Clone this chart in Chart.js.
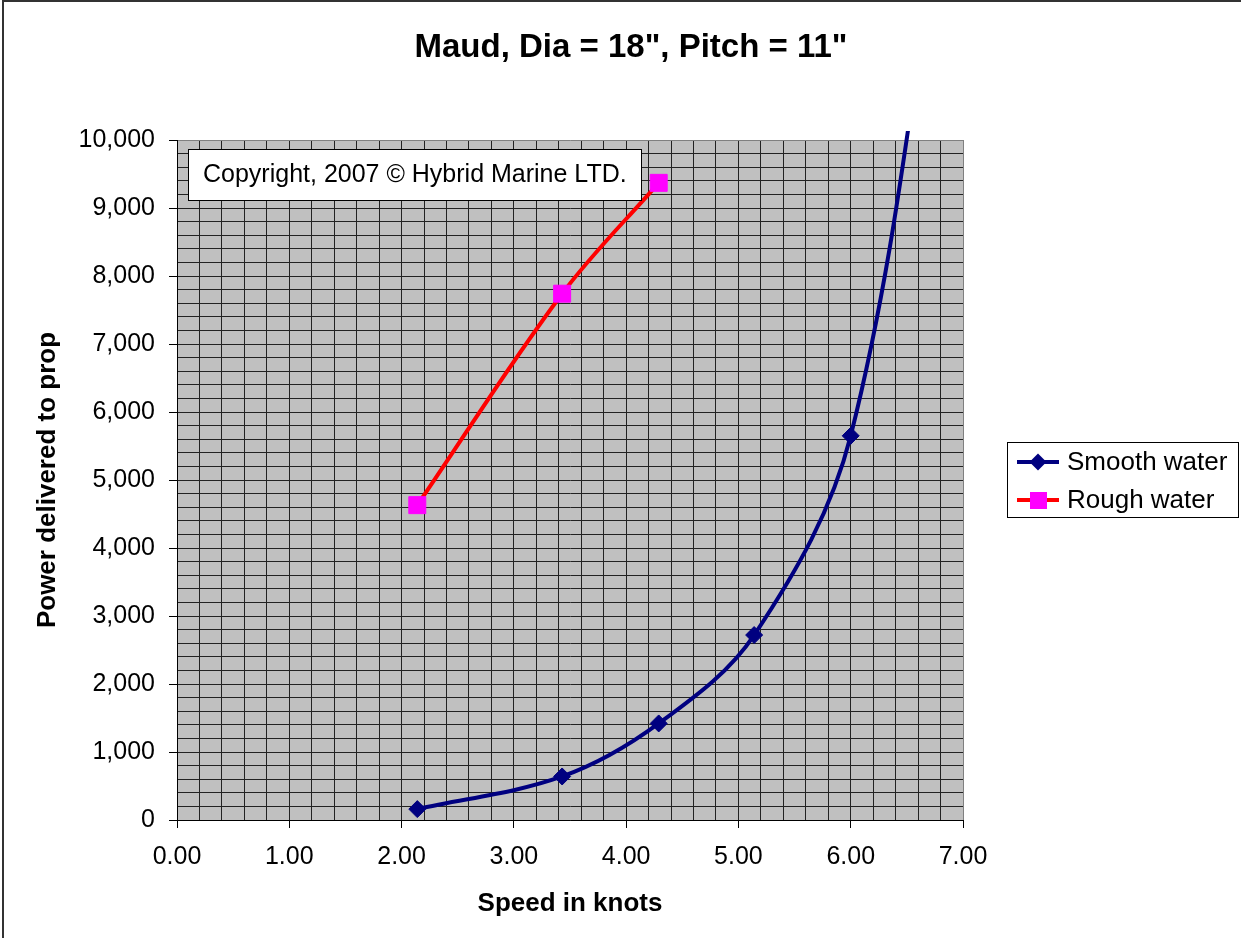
<!DOCTYPE html>
<html><head><meta charset="utf-8">
<script src="https://cdn.jsdelivr.net/npm/chart.js@4/dist/chart.umd.min.js"></script>
<style>html,body{margin:0;padding:0;background:#fff;}canvas{display:block;}</style>
</head><body>
<canvas id="c" width="1241" height="938"></canvas>
<script>
// ---- data ----
const chartTitle = 'Maud, Dia = 18", Pitch = 11"';
const xAxisTitle = 'Speed in knots';
const yAxisTitle = 'Power delivered to prop';
const copyrightText = 'Copyright, 2007 \u00A9 Hybrid Marine LTD.';
const smoothLabel = 'Smooth water';
const roughLabel = 'Rough water';
const smoothSpeeds = [2.14, 3.43, 4.29, 5.14, 6.00, 6.86];
const smoothPower  = [160, 640, 1420, 2720, 5650, 14000];
const roughSpeeds  = [2.14, 3.43, 4.29];
const roughPower   = [4630, 7740, 9370];
const xMin = 0, xMax = 7, xStep = 0.2, xLabelStep = 1;
const yMin = 0, yMax = 10000, yStep = 200, yLabelStep = 1000;
const xGridValues = Array.from({length: Math.round((xMax - xMin) / xStep) + 1}, (_, i) => +(xMin + i * xStep).toFixed(4));
const yGridValues = Array.from({length: Math.round((yMax - yMin) / yStep) + 1}, (_, i) => yMin + i * yStep);

const FONT = '"Liberation Sans", Arial, Helvetica, sans-serif';
const isMajorX = v => Math.abs(v / xLabelStep - Math.round(v / xLabelStep)) < 1e-6;
const isMajorY = v => v % yLabelStep === 0;

const decor = {
  id: 'decor',
  beforeDraw(chart) {
    const ctx = chart.ctx, a = chart.chartArea;
    ctx.save();
    ctx.fillStyle = '#ffffff';
    ctx.fillRect(0, 0, chart.width, chart.height);
    ctx.strokeStyle = '#333333';
    ctx.lineWidth = 2;
    ctx.strokeRect(3, 1, chart.width + 20, chart.height + 20);
    ctx.fillStyle = '#C0C0C0';
    ctx.fillRect(a.left, a.top, a.right - a.left, a.bottom - a.top);
    ctx.fillStyle = '#000';
    ctx.font = 'bold 33px ' + FONT;
    ctx.textAlign = 'center';
    ctx.textBaseline = 'middle';
    ctx.fillText(chartTitle, 631, 48);
    ctx.restore();
  },
  afterDraw(chart) {
    const ctx = chart.ctx;
    ctx.save();
    // copyright box
    ctx.fillStyle = '#fff';
    ctx.fillRect(188, 149, 453, 51);
    ctx.strokeStyle = '#000';
    ctx.lineWidth = 1;
    ctx.strokeRect(188.5, 149.5, 453, 51);
    ctx.fillStyle = '#000';
    ctx.font = '25px ' + FONT;
    ctx.textAlign = 'left';
    ctx.textBaseline = 'middle';
    ctx.fillText(copyrightText, 203, 175);
    // legend
    ctx.fillStyle = '#fff';
    ctx.fillRect(1007, 442, 232, 76);
    ctx.strokeStyle = '#000';
    ctx.strokeRect(1007.5, 442.5, 231, 75);
    const rows = [462, 500];
    chart.data.datasets.forEach((ds, i) => {
      const y = rows[i];
      ctx.strokeStyle = ds.borderColor;
      ctx.lineWidth = ds.borderWidth;
      ctx.beginPath(); ctx.moveTo(1017, y); ctx.lineTo(1059, y); ctx.stroke();
      ctx.fillStyle = ds.pointBackgroundColor;
      if (ds.pointStyle === 'rectRot') {
        ctx.beginPath(); ctx.moveTo(1038, y - 8.5); ctx.lineTo(1046.5, y); ctx.lineTo(1038, y + 8.5); ctx.lineTo(1029.5, y); ctx.closePath(); ctx.fill();
      } else {
        ctx.fillRect(1030, y - 8, 17, 17);
      }
      ctx.fillStyle = '#000';
      ctx.font = '26px ' + FONT;
      ctx.textAlign = 'left';
      ctx.textBaseline = 'middle';
      ctx.fillText(ds.label, 1067, y + 1);
    });
    ctx.restore();
  }
};

new Chart(document.getElementById('c'), {
  type: 'scatter',
  data: {
    datasets: [
      {
        label: smoothLabel,
        data: smoothSpeeds.map((x, i) => ({x, y: smoothPower[i]})),
        showLine: true,
        borderColor: '#000080',
        backgroundColor: '#000080',
        pointBackgroundColor: '#000080',
        pointBorderColor: '#000080',
        borderWidth: 4,
        pointStyle: 'rectRot',
        pointRadius: 8.5,
        pointBorderWidth: 1,
        tension: 0.35,
        clip: {left: 0, top: 9, right: 0, bottom: 0}
      },
      {
        label: roughLabel,
        data: roughSpeeds.map((x, i) => ({x, y: roughPower[i]})),
        showLine: true,
        borderColor: '#FF0000',
        backgroundColor: '#FF00FF',
        pointBackgroundColor: '#FF00FF',
        pointBorderColor: '#FF00FF',
        borderWidth: 4,
        pointStyle: 'rect',
        pointRadius: 12,
        pointBorderWidth: 1,
        tension: 0.35,
        clip: {left: 0, top: 9, right: 0, bottom: 0}
      }
    ]
  },
  options: {
    responsive: false,
    animation: false,
    devicePixelRatio: 1,
    layout: {padding: {left: 0, top: 140, right: 278, bottom: 0}},
    elements: {line: {capBezierPoints: false}},
    plugins: {legend: {display: false}, title: {display: false}, tooltip: {enabled: false}},
    scales: {
      x: {
        type: 'linear', position: 'bottom', min: xMin, max: xMax,
        afterFit: s => { s.height = 118; },
        afterBuildTicks: s => { s.ticks = xGridValues.map(v => ({value: v})); },
        ticks: {
          autoSkip: false, maxRotation: 0, minRotation: 0, padding: 14,
          color: '#000', font: {family: FONT, size: 25},
          callback: v => isMajorX(v) ? Number(v).toFixed(2) : ''
        },
        grid: {
          color: c => (c.tick && c.tick.value === xMax) ? '#808080' : '#222222',
          lineWidth: 1, tickLength: 8, drawTicks: true,
          tickColor: c => (c.tick && isMajorX(c.tick.value)) ? '#000' : 'rgba(0,0,0,0)'
        },
        border: {display: true, color: '#000', width: 1},
        title: {display: true, text: xAxisTitle, color: '#000', font: {family: FONT, size: 26, weight: 'bold'}, padding: {top: 0, bottom: 19}}
      },
      y: {
        type: 'linear', position: 'left', min: yMin, max: yMax,
        afterFit: s => { s.width = 177; },
        afterBuildTicks: s => { s.ticks = yGridValues.map(v => ({value: v})); },
        ticks: {
          autoSkip: false, padding: 14,
          color: '#000', font: {family: FONT, size: 25},
          callback: v => isMajorY(v) ? Number(v).toLocaleString('en-US') : ''
        },
        grid: {
          color: c => (c.tick && c.tick.value === yMax) ? '#808080' : '#222222',
          lineWidth: 1, tickLength: 8, drawTicks: true,
          tickColor: c => (c.tick && isMajorY(c.tick.value)) ? '#000' : 'rgba(0,0,0,0)'
        },
        border: {display: true, color: '#000', width: 1},
        title: {display: true, text: yAxisTitle, color: '#000', font: {family: FONT, size: 26, weight: 'bold'}, padding: {top: 32, bottom: 0}}
      }
    }
  },
  plugins: [decor]
});
</script>
</body></html>
